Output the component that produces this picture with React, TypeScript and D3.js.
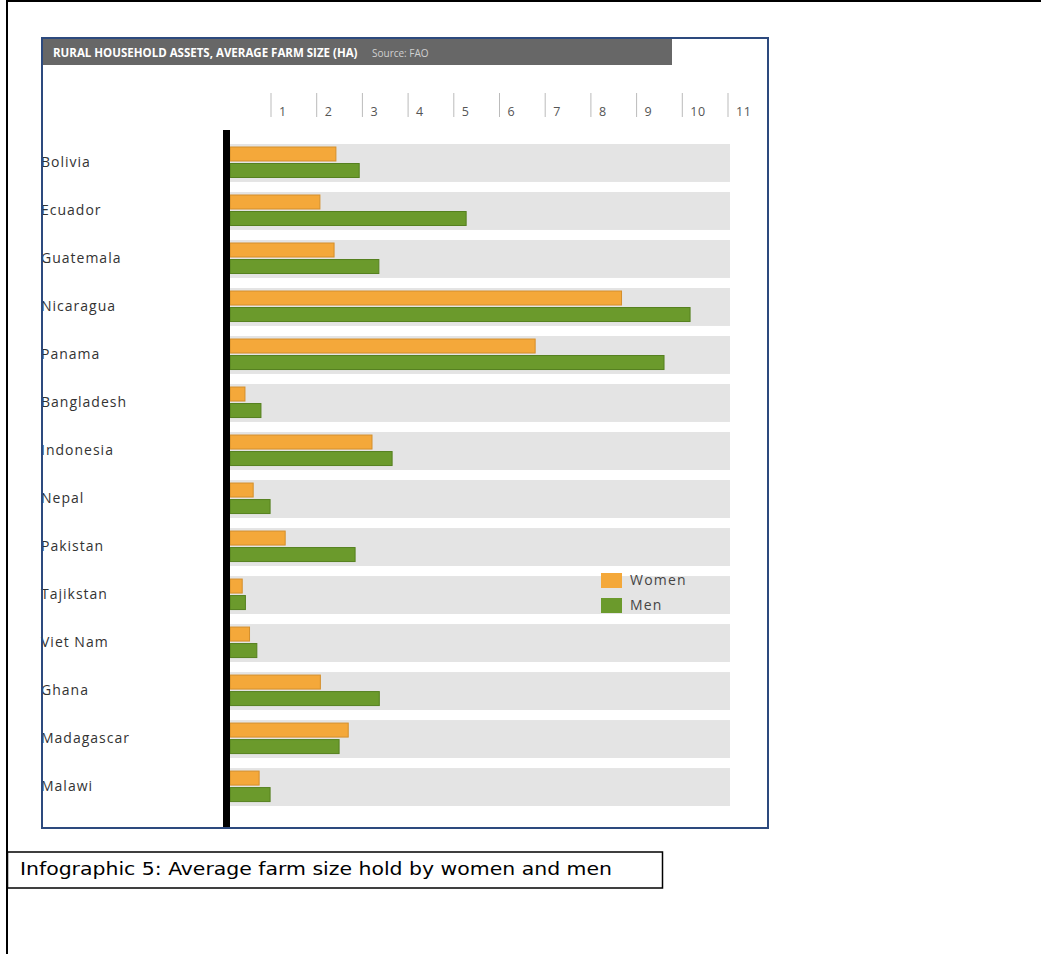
import React from "react";
import * as d3 from "d3";

const countries = ["Bolivia", "Ecuador", "Guatemala", "Nicaragua", "Panama", "Bangladesh", "Indonesia", "Nepal", "Pakistan", "Tajikstan", "Viet Nam", "Ghana", "Madagascar", "Malawi"];
const women = [2.42, 2.07, 2.38, 8.67, 6.78, 0.43, 3.21, 0.61, 1.31, 0.37, 0.53, 2.08, 2.69, 0.74];
const men = [2.93, 5.27, 3.36, 10.17, 9.6, 0.78, 3.65, 0.98, 2.84, 0.44, 0.69, 3.37, 2.49, 0.98];
const tickValues = [1, 2, 3, 4, 5, 6, 7, 8, 9, 10, 11];
const seriesNames = ["Women", "Men"];
const seriesColors = ["#f4a83a", "#6b9a2c"];
const seriesStroke = ["#d48f2c", "#55801f"];

const title = "RURAL HOUSEHOLD ASSETS, AVERAGE FARM SIZE (HA)";
const source = "Source: FAO";
const caption = "Infographic 5: Average farm size hold by women and men";

export default function App() {
  const x = d3.scaleLinear().domain([0, 11]).range([225.3, 728]);
  const y = d3.scaleBand<string>().domain(countries).range([144, 806]).paddingInner(0.21).paddingOuter(0);
  const bw = y.bandwidth();
  const x0 = 230;
  const font = "'Open Sans', 'DejaVu Sans', sans-serif";

  return (
    <svg width={1041} height={954} style={{ position: "absolute", left: 0, top: 0, background: "#fff" }}>
      {/* outer frame */}
      <line x1={7} y1={1} x2={1041} y2={1} stroke="#000" strokeWidth={2} />
      <line x1={7} y1={0} x2={7} y2={954} stroke="#000" strokeWidth={2} />

      {/* title bar */}
      <rect x={43} y={39} width={629} height={26} fill="#676767" />
      <text x={53} y={57} fill="#fff" fontFamily={font} fontWeight={700} fontSize={11.5}>{title}</text>
      <text x={372} y={57} fill="#d0d0d0" fontFamily={font} fontSize={10}>{source}</text>

      {/* ticks */}
      {tickValues.map((t) => (
        <g key={t}>
          <line x1={x(t)} x2={x(t)} y1={93} y2={117} stroke="#bbb" strokeWidth={1} />
          <text x={x(t) + 8} y={116} fill="#555" fontFamily={font} fontSize={12.5} letterSpacing={0.5}>{t}</text>
        </g>
      ))}

      {/* rows */}
      {countries.map((c, i) => {
        const yy = y(c) as number;
        return (
          <g key={c}>
            <rect x={x0} y={yy} width={x(11) + 2 - x0} height={bw} fill="#e4e4e4" />
            <rect x={x0} y={yy + 3} width={x(women[i]) - x0} height={14} fill={seriesColors[0]} stroke={seriesStroke[0]} strokeWidth={1} />
            <rect x={x0} y={yy + 19.5} width={x(men[i]) - x0} height={14} fill={seriesColors[1]} stroke={seriesStroke[1]} strokeWidth={1} />
            <text x={41} y={yy + bw / 2 + 4} fill="#333" fontFamily={font} fontSize={14} letterSpacing={1}>{c}</text>
          </g>
        );
      })}

      {/* black axis */}
      <rect x={223} y={130} width={7} height={698} fill="#000" />

      {/* legend */}
      {seriesNames.map((s, i) => (
        <g key={s}>
          <rect x={601} y={573 + i * 25} width={21} height={15} fill={seriesColors[i]} />
          <text x={630} y={585 + i * 25} fill="#444" fontFamily={font} fontSize={14} letterSpacing={1.2}>{s}</text>
        </g>
      ))}

      {/* chart frame */}
      <rect x={42} y={38} width={726} height={790} fill="none" stroke="#2d4a7e" strokeWidth={2} />

      {/* caption box */}
      <rect x={7.5} y={852} width={655} height={36} fill="#fff" stroke="#000" strokeWidth={1.5} />
      <text x={20} y={875} fill="#000" fontFamily="'DejaVu Sans Condensed', 'Liberation Sans Narrow', 'Liberation Sans', sans-serif" fontSize={18} textLength={592} lengthAdjust="spacingAndGlyphs">{caption}</text>
    </svg>
  );
}
